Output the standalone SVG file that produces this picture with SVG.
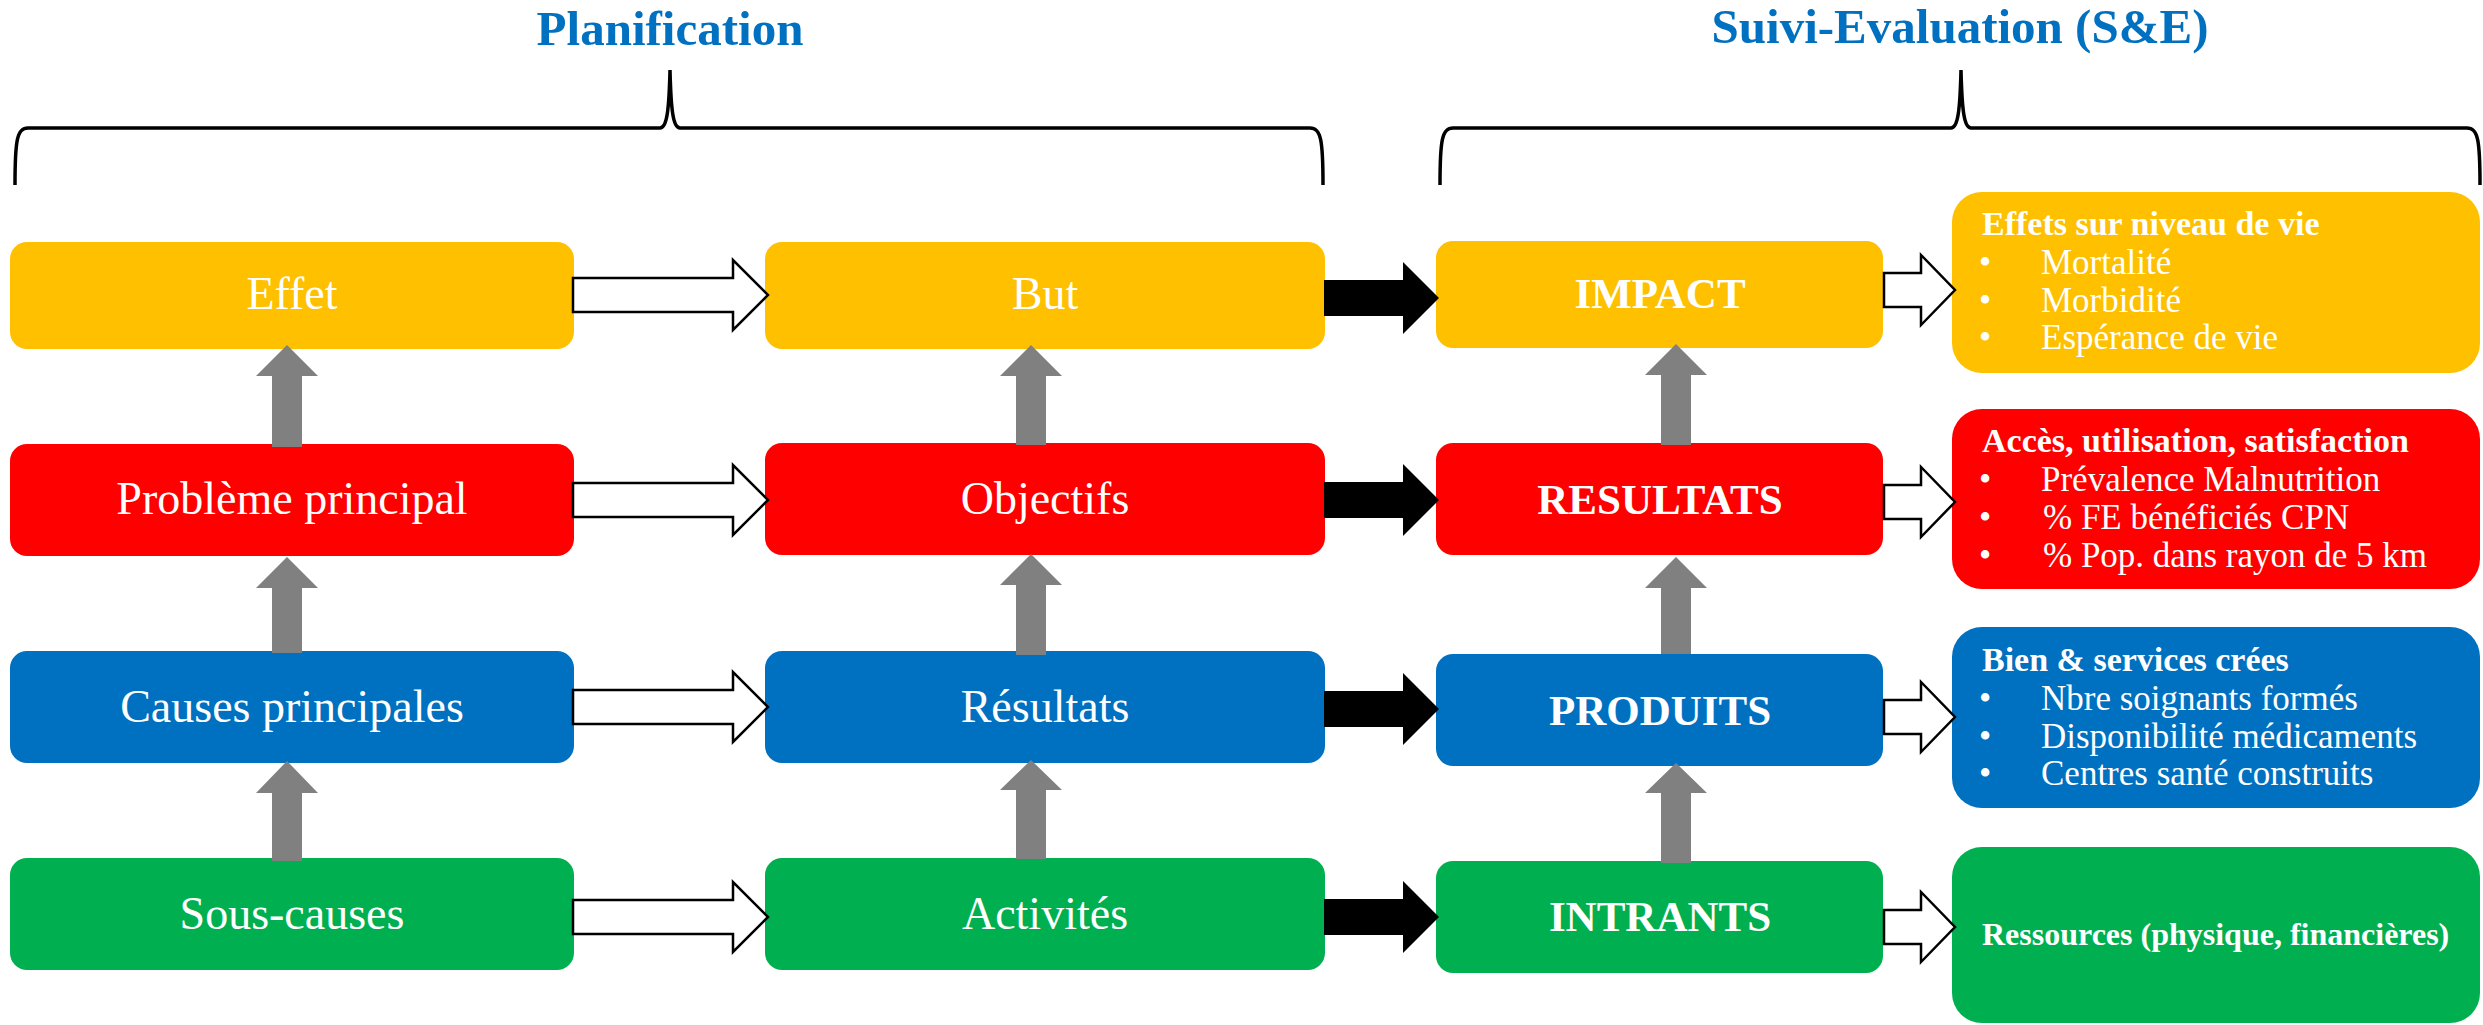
<svg xmlns="http://www.w3.org/2000/svg" width="2483" height="1025" viewBox="0 0 2483 1025">
<style>
.y{fill:#FFC000}.r{fill:#FF0000}.b{fill:#0070C0}.g{fill:#00B050}
.t{font-family:"Liberation Serif","Times New Roman",serif;fill:#fff;text-anchor:middle}
.p{font-size:46px}
.s{font-size:43px;font-weight:bold}
.h{font-family:"Liberation Serif","Times New Roman",serif;fill:#0070C0;font-weight:bold;font-size:49px;text-anchor:middle}
.l{font-family:"Liberation Serif","Times New Roman",serif;fill:#fff;font-size:35px}
.lb{font-weight:bold;font-size:34px}
.brace{fill:none;stroke:#000;stroke-width:3.5}
.open{fill:#fff;stroke:#000;stroke-width:2.5;stroke-linejoin:miter}
.blk{fill:#000}
.gray{fill:#808080}
</style>
<rect width="2483" height="1025" fill="#fff"/>
<g id="titles">
<text class="h" x="670" y="45">Planification</text>
<text class="h" x="1960" y="43">Suivi-Evaluation (S&amp;E)</text>
<path class="brace" d="M15 185 C15 140 17 128 28 128 L660 128 C667 128 669 110 670 70 C671 110 673 128 680 128 L1310 128 C1321 128 1323 140 1323 185"/>
<path class="brace" d="M1440 185 C1440 140 1442 128 1453 128 L1951 128 C1958 128 1960 110 1961 70 C1962 110 1964 128 1971 128 L2467 128 C2478 128 2480 140 2480 185"/>
</g>
<g id="n-effet"><rect class="y" x="10" y="242" width="564" height="107" rx="17"/><text class="t p" x="292" y="309">Effet</text></g>
<g id="n-probleme"><rect class="r" x="10" y="444" width="564" height="112" rx="17"/><text class="t p" x="292" y="514">Problème principal</text></g>
<g id="n-causes"><rect class="b" x="10" y="651" width="564" height="112" rx="17"/><text class="t p" x="292" y="722">Causes principales</text></g>
<g id="n-souscauses"><rect class="g" x="10" y="858" width="564" height="112" rx="17"/><text class="t p" x="292" y="929">Sous-causes</text></g>
<g id="n-but"><rect class="y" x="765" y="242" width="560" height="107" rx="17"/><text class="t p" x="1045" y="309">But</text></g>
<g id="n-objectifs"><rect class="r" x="765" y="443" width="560" height="112" rx="17"/><text class="t p" x="1045" y="514">Objectifs</text></g>
<g id="n-resultats"><rect class="b" x="765" y="651" width="560" height="112" rx="17"/><text class="t p" x="1045" y="722">Résultats</text></g>
<g id="n-activites"><rect class="g" x="765" y="858" width="560" height="112" rx="17"/><text class="t p" x="1045" y="929">Activités</text></g>
<g id="n-impact"><rect class="y" x="1436" y="241" width="447" height="107" rx="17"/><text class="t s" x="1660" y="308">IMPACT</text></g>
<g id="n-resultats2"><rect class="r" x="1436" y="443" width="447" height="112" rx="17"/><text class="t s" x="1660" y="514">RESULTATS</text></g>
<g id="n-produits"><rect class="b" x="1436" y="654" width="447" height="112" rx="17"/><text class="t s" x="1660" y="725">PRODUITS</text></g>
<g id="n-intrants"><rect class="g" x="1436" y="861" width="447" height="112" rx="17"/><text class="t s" x="1660" y="931">INTRANTS</text></g>
<g id="n-effets-vie"><rect class="y" x="1952" y="192" width="528" height="181" rx="30"/>
<text class="l lb" x="1982" y="235">Effets sur niveau de vie</text>
<text class="l" x="1979" y="274">•</text><text class="l" x="2041" y="274">Mortalité</text>
<text class="l" x="1979" y="312">•</text><text class="l" x="2041" y="312">Morbidité</text>
<text class="l" x="1979" y="349">•</text><text class="l" x="2041" y="349">Espérance de vie</text></g>
<g id="n-acces"><rect class="r" x="1952" y="409" width="528" height="180" rx="30"/>
<text class="l lb" x="1982" y="452">Accès, utilisation, satisfaction</text>
<text class="l" x="1979" y="491">•</text><text class="l" x="2041" y="491">Prévalence Malnutrition</text>
<text class="l" x="1979" y="529">•</text><text class="l" x="2043" y="529">% FE bénéficiés CPN</text>
<text class="l" x="1979" y="567">•</text><text class="l" x="2043" y="567">% Pop. dans rayon de 5 km</text></g>
<g id="n-biens"><rect class="b" x="1952" y="627" width="528" height="181" rx="30"/>
<text class="l lb" x="1982" y="671">Bien &amp; services crées</text>
<text class="l" x="1979" y="710">•</text><text class="l" x="2041" y="710">Nbre soignants formés</text>
<text class="l" x="1979" y="748">•</text><text class="l" x="2041" y="748">Disponibilité médicaments</text>
<text class="l" x="1979" y="785">•</text><text class="l" x="2041" y="785">Centres santé construits</text></g>
<g id="n-ressources"><rect class="g" x="1952" y="847" width="528" height="176" rx="30"/>
<text class="l lb" x="1982" y="945" style="font-size:32px">Ressources (physique, financières)</text></g>
<g id="connectors">
<path class="open" d="M573 278 L733 278 L733 260 L768 295 L733 330 L733 312 L573 312 Z"/>
<path class="open" d="M573 483 L733 483 L733 465 L768 500 L733 535 L733 517 L573 517 Z"/>
<path class="open" d="M573 690 L733 690 L733 672 L768 707 L733 742 L733 724 L573 724 Z"/>
<path class="open" d="M573 900 L733 900 L733 882 L768 917 L733 952 L733 934 L573 934 Z"/>
<path class="blk" d="M1324 280 L1403 280 L1403 262 L1439 298 L1403 334 L1403 316 L1324 316 Z"/>
<path class="blk" d="M1324 482 L1403 482 L1403 464 L1439 500 L1403 536 L1403 518 L1324 518 Z"/>
<path class="blk" d="M1324 691 L1403 691 L1403 673 L1439 709 L1403 745 L1403 727 L1324 727 Z"/>
<path class="blk" d="M1324 899 L1403 899 L1403 881 L1439 917 L1403 953 L1403 935 L1324 935 Z"/>
<path class="open" d="M1884 273 L1921 273 L1921 255 L1955 290 L1921 325 L1921 307 L1884 307 Z"/>
<path class="open" d="M1884 485 L1921 485 L1921 467 L1955 502 L1921 537 L1921 519 L1884 519 Z"/>
<path class="open" d="M1884 700 L1921 700 L1921 682 L1955 717 L1921 752 L1921 734 L1884 734 Z"/>
<path class="open" d="M1884 910 L1921 910 L1921 892 L1955 927 L1921 962 L1921 944 L1884 944 Z"/>
<path class="gray" d="M272 447 L272 376 L256 376 L287 345 L318 376 L302 376 L302 447 Z"/>
<path class="gray" d="M272 653 L272 588 L256 588 L287 557 L318 588 L302 588 L302 653 Z"/>
<path class="gray" d="M272 861 L272 793 L256 793 L287 761 L318 793 L302 793 L302 861 Z"/>
<path class="gray" d="M1016 445 L1016 376 L1000 376 L1031 345 L1062 376 L1046 376 L1046 445 Z"/>
<path class="gray" d="M1016 655 L1016 585 L1000 585 L1031 554 L1062 585 L1046 585 L1046 655 Z"/>
<path class="gray" d="M1016 859 L1016 790 L1000 790 L1031 760 L1062 790 L1046 790 L1046 859 Z"/>
<path class="gray" d="M1661 445 L1661 375 L1645 375 L1676 344 L1707 375 L1691 375 L1691 445 Z"/>
<path class="gray" d="M1661 654 L1661 588 L1645 588 L1676 557 L1707 588 L1691 588 L1691 654 Z"/>
<path class="gray" d="M1661 863 L1661 793 L1645 793 L1676 763 L1707 793 L1691 793 L1691 863 Z"/>
</g>
</svg>
